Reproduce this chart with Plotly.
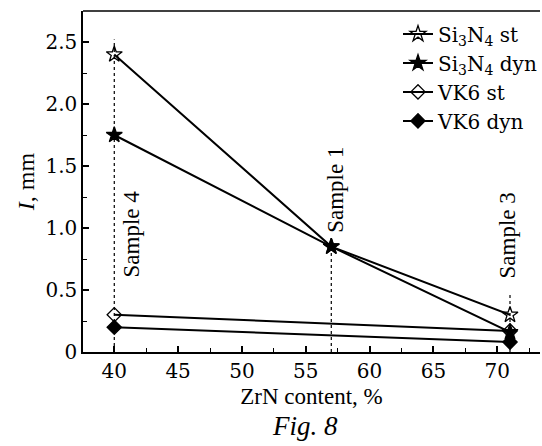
import plotly.graph_objects as go

zrn = [40, 57, 71]
si3n4_st = [2.40, 0.85, 0.30]
si3n4_dyn = [1.75, 0.85, 0.16]
vk6_st = [0.30, 0.17]
vk6_dyn = [0.20, 0.08]
vk6_x = [40, 71]

sample_x = [40, 57, 71]
sample_top = [2.52, 0.92, 0.48]
sample_labels = ["Sample 4", "Sample 1", "Sample 3"]
sample_label_y = [0.95, 1.31, 0.94]
sample_xshift = [17, 4, -3]

FONT = "Liberation Serif"
FONT2 = "DejaVu Serif"
fig = go.Figure()

for sx, st in zip(sample_x, sample_top):
    fig.add_trace(go.Scatter(x=[sx, sx], y=[0, st], mode="lines",
                             line=dict(color="black", width=1.2, dash="dot"),
                             showlegend=False, hoverinfo="skip"))

series = [
    ("Si<sub>3</sub>N<sub>4</sub> st", zrn, si3n4_st, "star-open", 12),
    ("Si<sub>3</sub>N<sub>4</sub> dyn", zrn, si3n4_dyn, "star", 12),
    ("VK6 st", vk6_x, vk6_st, "diamond-open", 11),
    ("VK6 dyn", vk6_x, vk6_dyn, "diamond", 11),
]
for name, xs, ys, sym, sz in series:
    fig.add_trace(go.Scatter(
        x=xs, y=ys, mode="lines+markers", name=name,
        line=dict(color="black", width=2),
        marker=dict(symbol=sym, size=sz, color="black",
                    line=dict(color="black", width=1.3)),
    ))

for sx, lbl, ly, xs in zip(sample_x, sample_labels, sample_label_y, sample_xshift):
    fig.add_annotation(x=sx, y=ly, text=lbl, textangle=-90, showarrow=False,
                       xshift=xs, font=dict(family=FONT, size=23, color="black"))

fig.add_shape(type="line", xref="paper", yref="paper", x0=0, x1=1, y0=1, y1=1,
              line=dict(color="black", width=1.5))

fig.add_annotation(xref="paper", yref="paper", x=0.485, y=-0.218, yanchor="middle",
                   text="<i>Fig. 8</i>", showarrow=False,
                   font=dict(family=FONT, size=27, color="black"))

fig.update_layout(
    width=542, height=446,
    margin=dict(l=83, r=0, t=11, b=94),
    paper_bgcolor="white", plot_bgcolor="white",
    font=dict(family=FONT, size=22, color="black"),
    showlegend=True,
    legend=dict(x=0.69, y=0.99, xanchor="left", yanchor="top",
                bgcolor="rgba(0,0,0,0)",
                font=dict(family=FONT2, size=20, color="black"),
                tracegroupgap=0, itemwidth=30),
    xaxis=dict(range=[37.55, 73.35], tickvals=[40, 45, 50, 55, 60, 65, 70],
               ticks="inside", ticklen=6, tickwidth=1.5, tickcolor="black",
               showline=True, linecolor="black", linewidth=1.5,
               showgrid=False, zeroline=False,
               minor=dict(dtick=2.5, tick0=0, ticks="inside", ticklen=4,
                          tickcolor="black", tickwidth=1.2, showgrid=False),
               title=dict(text="ZrN content, %", standoff=6,
                          font=dict(family=FONT, size=23, color="black")),
               tickfont=dict(family=FONT2, size=20, color="black")),
    yaxis=dict(range=[0, 2.75], tickvals=[0, 0.5, 1.0, 1.5, 2.0, 2.5],
               ticktext=["0", "0.5", "1.0", "1.5", "2.0", "2.5"],
               ticks="inside", ticklen=6, tickwidth=1.5, tickcolor="black",
               showline=True, linecolor="black", linewidth=1.5,
               showgrid=False, zeroline=False,
               minor=dict(dtick=0.25, tick0=0, ticks="inside", ticklen=4,
                          tickcolor="black", tickwidth=1.2, showgrid=False),
               title=dict(text="<i>I</i>, mm", standoff=4,
                          font=dict(family=FONT, size=24, color="black")),
               tickfont=dict(family=FONT2, size=20, color="black")),
)

fig.write_html("out.html")
